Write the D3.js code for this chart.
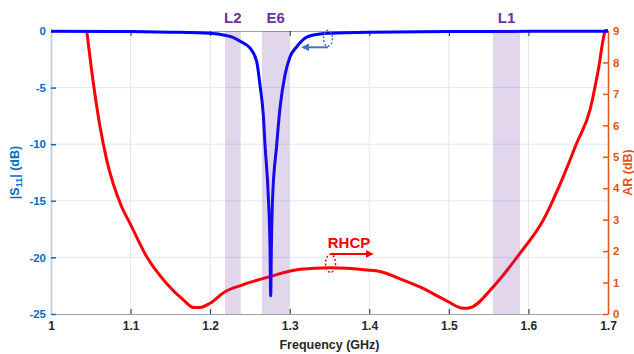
<!DOCTYPE html>
<html>
  <head>
    <meta charset="UTF-8" />
    <script src="https://cdn.jsdelivr.net/npm/d3@7/dist/d3.min.js"></script>
    <style>
      body { margin: 0; background: #fff; }
      svg { display: block; font-family: "Liberation Sans", Arial, sans-serif; }
    </style>
  </head>
  <body>
    <svg></svg>
    <script>
      // data
      const s11Freq = [1.0, 1.1, 1.15, 1.2, 1.22, 1.23, 1.24, 1.25, 1.2585, 1.2627, 1.2668, 1.269, 1.2733, 1.2752, 1.2761, 1.277, 1.2784, 1.2836, 1.2878, 1.294, 1.3003, 1.3087, 1.32, 1.33, 1.35, 1.4, 1.5, 1.6, 1.7]
      const s11Val = [-0.02, -0.05, -0.1, -0.2, -0.4, -0.6, -1.0, -1.5, -2.7, -4.8, -7.4, -10.1, -14.9, -19.0, -23.4, -19.0, -14.9, -10.1, -6.8, -3.9, -2.3, -1.4, -0.6, -0.35, -0.2, -0.1, -0.05, -0.03, -0.02]

      const arFreq = [1.0449, 1.051, 1.0616, 1.07, 1.0888, 1.0993, 1.1203, 1.145, 1.1663, 1.179, 1.187, 1.1998, 1.2187, 1.2397, 1.275, 1.313, 1.3506, 1.397, 1.4135, 1.4386, 1.4637, 1.4972, 1.518, 1.5266, 1.556, 1.5894, 1.6187, 1.6438, 1.6606, 1.6774, 1.6878, 1.6962, 1.7]
      const arVal = [9.0, 7.76, 5.96, 4.9, 3.41, 2.88, 1.82, 0.98, 0.45, 0.21, 0.21, 0.34, 0.71, 0.92, 1.19, 1.42, 1.47, 1.4, 1.35, 1.12, 0.86, 0.42, 0.18, 0.2, 0.87, 1.93, 2.99, 4.37, 5.43, 6.49, 7.76, 8.98, 9.1]

      const bandNames = ["L2", "E6", "L1"]
      const bandLo = [1.2187, 1.2652, 1.5555]
      const bandHi = [1.2384, 1.2995, 1.5895]

      const xTicks = [1, 1.1, 1.2, 1.3, 1.4, 1.5, 1.6, 1.7]
      const leftTicks = [0, -5, -10, -15, -20, -25]
      const rightTicks = [0, 1, 2, 3, 4, 5, 6, 7, 8, 9]

      // 1. setup
      const width = 634
      const height = 354
      const marge = { top: 31, bottom: 40, left: 51, right: 26 }
      const blueTxt = "#0070c0"
      const orange = "#e0561b"
      const plain = (d) => String(d) // keep "-" hyphen like the original

      const svg = d3
        .select("svg")
        .attr("width", width)
        .attr("height", height)
        .attr("viewBox", [0, 0, width, height])

      const x = d3
        .scaleLinear()
        .domain([1, 1.7])
        .range([marge.left, width - marge.right])
      const yL = d3
        .scaleLinear()
        .domain([-25, 0])
        .range([height - marge.bottom, marge.top])
      const yR = d3
        .scaleLinear()
        .domain([0, 9])
        .range([height - marge.bottom, marge.top])

      const x0 = marge.left, x1 = width - marge.right
      const y0 = marge.top, y1 = height - marge.bottom

      svg.append("defs")
        .append("clipPath")
        .attr("id", "clip")
        .append("rect")
        .attr("x", x0)
        .attr("y", y0 - 2)
        .attr("width", x1 - x0)
        .attr("height", y1 - y0 + 4)

      // 2. grid
      svg.append("g")
        .selectAll("line")
        .data(xTicks.slice(1, -1))
        .join("line")
        .attr("x1", (d) => x(d)).attr("x2", (d) => x(d))
        .attr("y1", y0).attr("y2", y1)
        .attr("stroke", "#e3e5e8")
        .attr("stroke-width", 1)

      svg.append("g")
        .selectAll("line")
        .data(leftTicks.slice(1, -1))
        .join("line")
        .attr("x1", x0).attr("x2", x1)
        .attr("y1", (d) => yL(d)).attr("y2", (d) => yL(d))
        .attr("stroke", "#dde9f5")
        .attr("stroke-width", 1)

      // 3. axes
      function xAxis(g) {
        g.attr("transform", `translate(0,${y1})`)
          .call(d3.axisBottom(x).tickValues(xTicks).tickFormat(plain).tickSizeInner(-5).tickSizeOuter(0).tickPadding(7))
          .call((g) => g.select(".domain").attr("stroke", "#9ba3ab"))
          .call((g) => g.selectAll(".tick line").attr("stroke", "#262626"))
          .call((g) =>
            g.selectAll("text")
              .attr("fill", "#262626")
              .attr("font-size", 12)
              .attr("font-weight", "bold")
          )
      }

      function xTop(g) {
        g.attr("transform", `translate(0,${y0})`)
          .call(d3.axisTop(x).tickValues(xTicks).tickFormat("").tickSizeInner(-5).tickSizeOuter(0))
          .call((g) => g.select(".domain").attr("stroke", "#9ba3ab"))
          .call((g) => g.selectAll(".tick line").attr("stroke", "#262626"))
      }

      function yAxisL(g) {
        g.attr("transform", `translate(${x0},0)`)
          .call(d3.axisLeft(yL).tickValues(leftTicks).tickFormat(plain).tickSizeInner(-5).tickSizeOuter(0).tickPadding(5))
          .call((g) => g.select(".domain").attr("stroke", "#c3d5e4").attr("stroke-width", 2))
          .call((g) => g.selectAll(".tick line").attr("stroke", blueTxt).attr("stroke-width", 1.5))
          .call((g) =>
            g.selectAll("text")
              .attr("fill", blueTxt)
              .attr("font-size", 11.5)
              .attr("font-weight", "bold")
          )
      }

      function yAxisR(g) {
        g.attr("transform", `translate(${x1},0)`)
          .call(d3.axisRight(yR).tickValues(rightTicks).tickFormat(plain).tickSizeInner(-5).tickSizeOuter(0).tickPadding(5))
          .call((g) => g.select(".domain").attr("stroke", orange).attr("stroke-width", 1.5))
          .call((g) => g.selectAll(".tick line").attr("stroke", orange).attr("stroke-width", 1.5))
          .call((g) =>
            g.selectAll("text")
              .attr("fill", orange)
              .attr("font-size", 11.5)
              .attr("font-weight", "bold")
          )
      }

      svg.append("g").call(xAxis)
      svg.append("g").call(xTop)
      svg.append("g").call(yAxisL)
      svg.append("g").call(yAxisR)

      // axis titles
      svg.append("text")
        .attr("x", (x0 + x1) / 2)
        .attr("y", 349)
        .attr("text-anchor", "middle")
        .attr("font-size", 12.5)
        .attr("font-weight", "bold")
        .attr("fill", "#262626")
        .text("Frequency (GHz)")

      const s11Title = svg.append("text")
        .attr("transform", `translate(19,${(y0 + y1) / 2}) rotate(-90)`)
        .attr("text-anchor", "middle")
        .attr("font-size", 12.5)
        .attr("font-weight", "bold")
        .attr("fill", blueTxt)
      s11Title.append("tspan").text("|S")
      s11Title.append("tspan").attr("font-size", 9).attr("dy", 3).text("11")
      s11Title.append("tspan").attr("dy", -3).text("| (dB)")

      svg.append("text")
        .attr("transform", `translate(632,${(y0 + y1) / 2}) rotate(-90)`)
        .attr("text-anchor", "middle")
        .attr("font-size", 12.5)
        .attr("font-weight", "bold")
        .attr("fill", orange)
        .text("AR (dB)")

      // 4. curves
      const plot = svg.append("g").attr("clip-path", "url(#clip)")

      const arData = arFreq.map((f, i) => ({ f, v: arVal[i] }))
      const s11Data = s11Freq.map((f, i) => ({ f, v: s11Val[i] }))

      plot.append("path")
        .datum(arData)
        .attr("fill", "none")
        .attr("stroke", "#ff0000")
        .attr("stroke-width", 3)
        .attr("stroke-linejoin", "round")
        .attr("d", d3.line().curve(d3.curveMonotoneX).x((d) => x(d.f)).y((d) => yR(d.v)))

      plot.append("path")
        .datum(s11Data)
        .attr("fill", "none")
        .attr("stroke", "#0000ff")
        .attr("stroke-width", 3)
        .attr("stroke-linejoin", "round")
        .attr("d", d3.line().curve(d3.curveMonotoneX).x((d) => x(d.f)).y((d) => yL(d.v)))

      // 5. bands (semi-transparent, on top)
      svg.append("g")
        .selectAll("rect")
        .data(bandNames)
        .join("rect")
        .attr("x", (d, i) => x(bandLo[i]))
        .attr("width", (d, i) => x(bandHi[i]) - x(bandLo[i]))
        .attr("y", y0)
        .attr("height", y1 - y0)
        .attr("fill", "#7030a0")
        .attr("fill-opacity", 0.2)

      svg.append("g")
        .selectAll("text")
        .data(bandNames)
        .join("text")
        .attr("x", (d, i) => x((bandLo[i] + bandHi[i]) / 2))
        .attr("y", 23)
        .attr("text-anchor", "middle")
        .attr("font-size", 15)
        .attr("font-weight", "bold")
        .attr("fill", "#7030a0")
        .text((d) => d)

      // 6. annotations
      const defs = svg.select("defs")
      function marker(id, color) {
        defs.append("marker")
          .attr("id", id)
          .attr("viewBox", "0 0 10 10")
          .attr("refX", 8)
          .attr("refY", 5)
          .attr("markerWidth", 4)
          .attr("markerHeight", 4)
          .attr("orient", "auto")
          .append("path")
          .attr("d", "M0,0L10,5L0,10z")
          .attr("fill", color)
      }
      marker("arrowBlue", "#4472c4")
      marker("arrowRed", "#ff0000")

      // blue: ellipse around S11 curve, arrow to the left axis
      svg.append("ellipse")
        .attr("cx", x(1.3481)).attr("cy", yL(-0.65))
        .attr("rx", 4.5).attr("ry", 8)
        .attr("fill", "none")
        .attr("stroke", "#4472c4")
        .attr("stroke-width", 1.5)
        .attr("stroke-dasharray", "2,2")
      svg.append("line")
        .attr("x1", x(1.3481)).attr("y1", yL(-1.44))
        .attr("x2", x(1.3165)).attr("y2", yL(-1.44))
        .attr("stroke", "#4472c4")
        .attr("stroke-width", 2)
        .attr("marker-end", "url(#arrowBlue)")

      // red: ellipse around AR curve, arrow to the right axis
      svg.append("ellipse")
        .attr("cx", x(1.3513)).attr("cy", yR(1.61))
        .attr("rx", 5).attr("ry", 9)
        .attr("fill", "none")
        .attr("stroke", "#ff0000")
        .attr("stroke-width", 1.5)
        .attr("stroke-dasharray", "2,2")
      svg.append("line")
        .attr("x1", x(1.3513)).attr("y1", yR(1.91))
        .attr("x2", x(1.4035)).attr("y2", yR(1.91))
        .attr("stroke", "#ff0000")
        .attr("stroke-width", 2)
        .attr("marker-end", "url(#arrowRed)")
      svg.append("text")
        .attr("x", x(1.3745))
        .attr("y", 248)
        .attr("text-anchor", "middle")
        .attr("font-size", 15)
        .attr("font-weight", "bold")
        .attr("fill", "#ff0000")
        .text("RHCP")
    </script>
  </body>
</html>
